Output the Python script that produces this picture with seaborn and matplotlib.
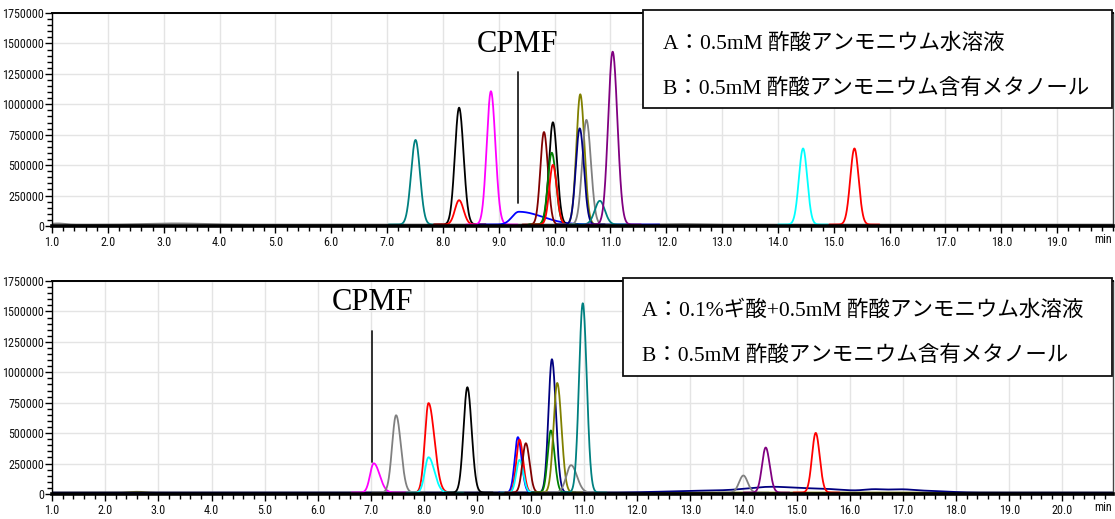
import numpy as np
import pandas as pd
import matplotlib
matplotlib.use("Agg")
import matplotlib.pyplot as plt
import seaborn as sns
from matplotlib import font_manager
from matplotlib.ticker import MultipleLocator, FixedLocator, FuncFormatter
from matplotlib.patches import Rectangle

# ---------------- data (peak parameters) ----------------
# top chromatogram: A = 0.5 mM ammonium acetate aq, B = 0.5 mM ammonium acetate in MeOH
top_rt = [7.51, 8.29, 8.29, 8.86, 9.36, 9.81, 9.97, 9.95, 9.97, 10.46, 10.57, 10.45, 10.81, 11.04, 14.45, 15.37]
top_height = [695000, 960000, 200000, 1095000, 105000, 760000, 840000, 590000, 490000, 1070000, 860000, 790000, 195000, 1420000, 625000, 625000]
top_sigma_left = [0.08, 0.075, 0.075, 0.075, 0.12, 0.065, 0.07, 0.07, 0.065, 0.07, 0.075, 0.07, 0.09, 0.08, 0.075, 0.075]
top_sigma_right = [0.08, 0.08, 0.08, 0.08, 0.42, 0.07, 0.075, 0.075, 0.07, 0.075, 0.08, 0.075, 0.09, 0.085, 0.075, 0.075]
top_color = ["#008080", "#000000", "#ff0000", "#ff00ff", "#0000ff", "#800000", "#000000", "#008000",
             "#ff0000", "#808000", "#808080", "#000080", "#008080", "#800080", "#00ffff", "#ff0000"]
top_base_rt = [1.1, 3.2, 12.3]
top_base_height = [9000, 9000, 5000]
top_base_sigma = [0.12, 0.5, 0.3]

# bottom chromatogram: A = 0.1% formic acid + 0.5 mM ammonium acetate aq
bot_rt = [7.05, 7.47, 8.08, 8.08, 8.81, 9.76, 9.79, 9.79, 9.91, 10.40, 10.38, 10.50, 10.76, 10.98, 14.00, 14.42, 15.36]
bot_height = [240000, 635000, 735000, 290000, 865000, 455000, 435000, 268000, 405000, 1095000, 510000, 900000, 225000, 1555000, 140000, 370000, 490000]
bot_sigma_left = [0.07, 0.075, 0.07, 0.07, 0.072, 0.06, 0.06, 0.06, 0.065, 0.065, 0.06, 0.07, 0.09, 0.07, 0.08, 0.07, 0.07]
bot_sigma_right = [0.11, 0.09, 0.11, 0.11, 0.08, 0.07, 0.07, 0.07, 0.07, 0.075, 0.07, 0.08, 0.11, 0.075, 0.08, 0.075, 0.075]
bot_color = ["#ff00ff", "#808080", "#ff0000", "#00ffff", "#000000", "#0000ff", "#ff0000", "#00ffff", "#800000",
             "#000080", "#008000", "#808000", "#808080", "#008080", "#808080", "#800080", "#ff0000"]
bot_hump_rt = [13.3, 14.5, 15.5, 16.45, 16.95, 17.5]
bot_hump_height = [15000, 40000, 28000, 20000, 22000, 12000]
bot_hump_sigma = [0.7, 0.45, 0.5, 0.2, 0.25, 0.35]

baseline_level = 12000
y_ticks = [0, 250000, 500000, 750000, 1000000, 1250000, 1500000, 1750000]
top_xticks = list(range(1, 20))
bot_xticks = list(range(1, 21))

top_title_A = "A：0.5mM 酢酸アンモニウム水溶液"
top_title_B = "B：0.5mM 酢酸アンモニウム含有メタノール"
bot_title_A = "A：0.1%ギ酸+0.5mM 酢酸アンモニウム水溶液"
bot_title_B = "B：0.5mM 酢酸アンモニウム含有メタノール"
cpmf_label = "CPMF"
top_cpmf = (9.34, 190000, 1265000, 1495000)   # x, line bottom, line top, text y
bot_cpmf = (7.02, 265000, 1340000, 1570000)

# ---------------- helpers ----------------
t = np.linspace(1.0, 21.0, 6001)


def peak(rt, h, sl, sr):
    s = np.where(t < rt, sl, sr)
    return h * np.exp(-(t - rt) ** 2 / (2 * s ** 2))


sns.set_theme(style="white")

# pick a condensed font when available
tick_family, tick_size = ["Liberation Sans", "DejaVu Sans"], 8.0
for cand, size in [("Roboto Condensed", 8.7), ("Liberation Sans Narrow", 9.0)]:
    try:
        font_manager.findfont(cand, fallback_to_default=False)
        tick_family, tick_size = [cand, "DejaVu Sans"], size
        break
    except Exception:
        pass
plt.rcParams["font.family"] = tick_family
serif_jp = ["Liberation Serif", "Noto Sans CJK JP"]

W, H = 1115, 519
fig = plt.figure(figsize=(W / 100, H / 100), dpi=100)
fig.patch.set_facecolor("white")
ax1 = fig.add_axes([52 / W, 1 - 226 / H, (1113 - 52) / W, 213 / H])
ax2 = fig.add_axes([52 / W, 1 - 494 / H, (1113 - 52) / W, 213 / H])


def draw_panel(ax, rts, hs, sls, srs, cols, base_traces, xmax, xticks):
    ax.set_facecolor("white")
    for col, comps in base_traces:
        y = np.full_like(t, baseline_level, dtype=float)
        for (r, h, s) in comps:
            y = y + h * np.exp(-(t - r) ** 2 / (2 * s ** 2))
        df = pd.DataFrame({"t": t, "y": y})
        sns.lineplot(data=df, x="t", y="y", color=col, lw=1.3, ax=ax, estimator=None, sort=False)
    for r, h, sl, sr, c in zip(rts, hs, sls, srs, cols):
        m = (t > r - 6 * sl) & (t < r + 6 * sr)
        y = baseline_level + peak(r, h, sl, sr)
        df = pd.DataFrame({"t": t[m], "y": y[m]})
        sns.lineplot(data=df, x="t", y="y", color=c, lw=1.3, ax=ax, estimator=None, sort=False)
    ax.set_xlim(1.0, xmax)
    ax.set_ylim(0, 1750000)
    ax.set_xlabel("")
    ax.set_ylabel("")
    ax.xaxis.set_major_locator(FixedLocator(xticks))
    ax.xaxis.set_minor_locator(MultipleLocator(0.2))
    ax.yaxis.set_major_locator(FixedLocator(y_ticks))
    ax.yaxis.set_minor_locator(MultipleLocator(50000))
    ax.xaxis.set_major_formatter(FuncFormatter(lambda v, p: f"{v:.1f}"))
    ax.yaxis.set_major_formatter(FuncFormatter(lambda v, p: f"{int(round(v))}"))
    ax.grid(True, which="major", color="#e4e4e4", lw=1.0)
    ax.set_axisbelow(True)
    ax.tick_params(axis="both", which="major", direction="out", length=5, width=1,
                   color="black", labelsize=tick_size, pad=0.8, labelcolor="#111111")
    ax.tick_params(axis="x", which="major", pad=2.5)
    ax.tick_params(axis="both", which="minor", direction="out", length=3.5, width=1, color="black")
    ax.tick_params(axis="x", which="both", bottom=True, top=False)
    ax.tick_params(axis="y", which="both", left=True, right=False)
    ax.spines["bottom"].set_linewidth(2.6)
    ax.spines["bottom"].set_color("black")
    ax.spines["top"].set_linewidth(1.4)
    ax.spines["top"].set_color("black")
    ax.spines["left"].set_linewidth(1.0)
    ax.spines["left"].set_color("black")
    ax.spines["right"].set_linewidth(1.0)
    ax.spines["right"].set_color("#444444")
    ax.text(0.999, -0.035, "min", transform=ax.transAxes, ha="right", va="top",
            fontsize=tick_size, color="#111111")


draw_panel(ax1, top_rt, top_height, top_sigma_left, top_sigma_right, top_color,
           [("#808080", list(zip(top_base_rt, top_base_height, top_base_sigma)))],
           20.0, top_xticks)
draw_panel(ax2, bot_rt, bot_height, bot_sigma_left, bot_sigma_right, bot_color,
           [("#808000", [(2.6, 6000, 0.15)]),
            ("#000080", list(zip(bot_hump_rt, bot_hump_height, bot_hump_sigma)))],
           20.95, bot_xticks)

# CPMF annotations
for ax, (cx, y0, y1, ty) in [(ax1, top_cpmf), (ax2, bot_cpmf)]:
    ax.plot([cx, cx], [y0, y1], color="#222222", lw=1.3)
    ax.text(cx, ty, cpmf_label, ha="center", va="center", fontsize=22, family=serif_jp, color="black")


# condition boxes
def cond_box(x0, y0, x1, y1, lines, ys, tx):
    fig.add_artist(Rectangle((x0 / W, 1 - y1 / H), (x1 - x0) / W, (y1 - y0) / H,
                             transform=fig.transFigure, facecolor="white",
                             edgecolor="#111111", lw=1.3, zorder=5))
    for s, yy in zip(lines, ys):
        fig.text(tx / W, 1 - yy / H, s, ha="left", va="center", fontsize=15.5,
                 family=serif_jp, color="black", zorder=6)


cond_box(643, 10, 1112, 108, [top_title_A, top_title_B], [44, 89], 663)
cond_box(623, 278, 1112, 376, [bot_title_A, bot_title_B], [311, 356], 642)

fig.savefig("out.png", dpi=100, facecolor="white")
